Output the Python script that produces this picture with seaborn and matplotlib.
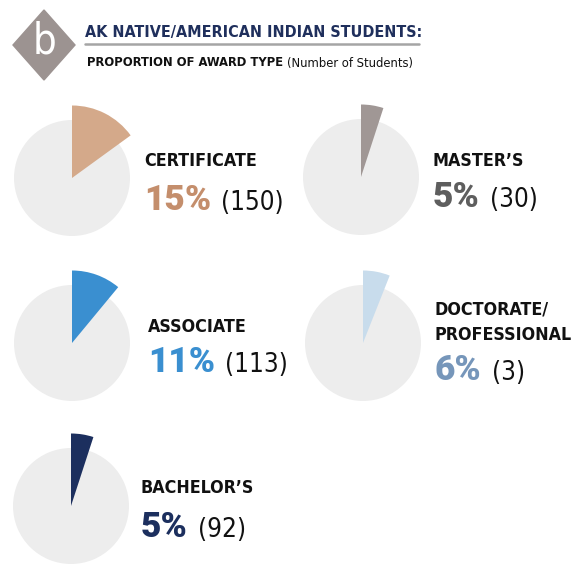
import matplotlib
matplotlib.use("Agg")
import matplotlib.pyplot as plt
from matplotlib import font_manager as fm
from matplotlib.patches import Polygon
import seaborn as sns

# data
award_types = ["CERTIFICATE", "MASTER\u2019S", "ASSOCIATE", "DOCTORATE/\nPROFESSIONAL", "BACHELOR\u2019S"]
percents = [15, 5, 11, 6, 5]
counts = [150, 30, 113, 3, 92]
wedge_colors = ["#D4A98A", "#A09795", "#3A8FD0", "#C8DCEC", "#1C2F5E"]
text_colors = ["#C48E6C", "#5E5E5E", "#3A8FD0", "#7696BA", "#1C2F5E"]

sns.set_style("white")


# look for a condensed / narrow font, else fall back to Roboto
def weight_num(w):
    return w if isinstance(w, int) else fm.weight_dict.get(w, 400)


def pick_font(target_weight):
    best = None
    for f in fm.fontManager.ttflist:
        cond = ("condensed" in str(f.stretch) and "expanded" not in str(f.stretch)) \
            or "Narrow" in f.name or "Condensed" in f.name or "Cond" in f.fname
        if not cond or f.style != "normal":
            continue
        d = abs(weight_num(f.weight) - target_weight)
        if best is None or d < best[0]:
            best = (d, f.fname)
    if best is not None and best[0] <= 150:
        return fm.FontProperties(fname=best[1])
    return fm.FontProperties(family="Roboto", weight="bold" if target_weight >= 600 else "normal")


BOLD = pick_font(700)
REG = pick_font(400)
HEAVY = fm.FontProperties(family="Roboto", weight="black")

W, H = 580, 571
fig = plt.figure(figsize=(W / 100, H / 100), dpi=100)
fig.patch.set_facecolor("white")
renderer = fig.canvas.get_renderer()


def fx(x):
    return x / W


def fy(y):
    return 1 - y / H


def width_of(s, fp, size):
    t = fig.text(0, 0, s, fontproperties=fp, fontsize=size)
    w = t.get_window_extent(renderer).width
    t.remove()
    return w


def fit_size(s, fp, target, base, lo=0.6, hi=1.15):
    w = width_of(s, fp, base)
    return base * max(lo, min(hi, target / w))


# layout (pixel positions of each panel): pie center, label x, label baseline, percent baseline
layout = [
    (72, 178, 144, 166, 210),
    (361, 177, 433, 166, 207),
    (72, 343, 148, 332, 372),
    (363, 343, 435, 315, 380),
    (71, 506, 141, 493, 537),
]
R = 58  # pixel radius of the gray circle

label_size = fit_size("CERTIFICATE", BOLD, 113, 14)
count_size = fit_size("(150)", REG, 63, 21)
pct_size = fit_size("15%", HEAVY, 67, 25)

for i, (cx, cy, lx, ly, py) in enumerate(layout):
    half = R * 1.3
    ax = fig.add_axes([fx(cx - half), fy(cy + half), 2 * half / W, 2 * half / H])
    ax.pie([1], colors=["#EDEDED"], radius=1.0, startangle=90,
           wedgeprops=dict(linewidth=0))
    ax.pie([percents[i], 100 - percents[i]], colors=[wedge_colors[i], "none"],
           radius=1.25, startangle=90, counterclock=False,
           wedgeprops=dict(linewidth=0))
    ax.set_xlim(-1.3, 1.3)
    ax.set_ylim(-1.3, 1.3)
    ax.set_aspect("equal")
    ax.axis("off")

    for j, line in enumerate(award_types[i].split("\n")):
        fig.text(fx(lx), fy(ly + j * 25), line, fontproperties=BOLD, fontsize=label_size,
                 color="#111111", va="baseline")

    t = fig.text(fx(lx), fy(py), f"{percents[i]}%", fontproperties=HEAVY, fontsize=pct_size,
                 color=text_colors[i], va="baseline")
    bb = t.get_window_extent(renderer)
    fig.text(fx(bb.x1 + 10), fy(py), f"({counts[i]})", fontproperties=REG,
             fontsize=count_size, color="#111111", va="baseline")

# header
diamond = Polygon([[fx(13), fy(45)], [fx(44), fy(10)], [fx(75), fy(45)], [fx(44), fy(80)]],
                  closed=True, transform=fig.transFigure, color="#9C9391", zorder=1)
fig.patches.append(diamond)
fig.text(fx(45), fy(53), "b", fontproperties=REG, fontsize=30, color="white",
         ha="center", va="baseline", zorder=2)

title = "AK NATIVE/AMERICAN INDIAN STUDENTS:"
fig.text(fx(85), fy(37), title, fontproperties=BOLD, fontsize=fit_size(title, BOLD, 334, 13.5),
         color="#1F2F5C", va="baseline")
fig.add_artist(plt.Line2D([fx(85), fx(419)], [fy(44), fy(44)], color="#A5A5A5",
                          lw=1.8, transform=fig.transFigure))
sub_b = "PROPORTION OF AWARD TYPE"
sub_r = "(Number of Students)"
sub_size = fit_size(sub_b, BOLD, 197, 10.5)
sub = fig.text(fx(87), fy(66.5), sub_b, fontproperties=BOLD, fontsize=sub_size,
               color="#111111", va="baseline")
bb = sub.get_window_extent(renderer)
fig.text(fx(bb.x1 + 4), fy(66.5), sub_r, fontproperties=REG, fontsize=sub_size,
         color="#111111", va="baseline")

fig.savefig("out.png", dpi=100, facecolor="white")
